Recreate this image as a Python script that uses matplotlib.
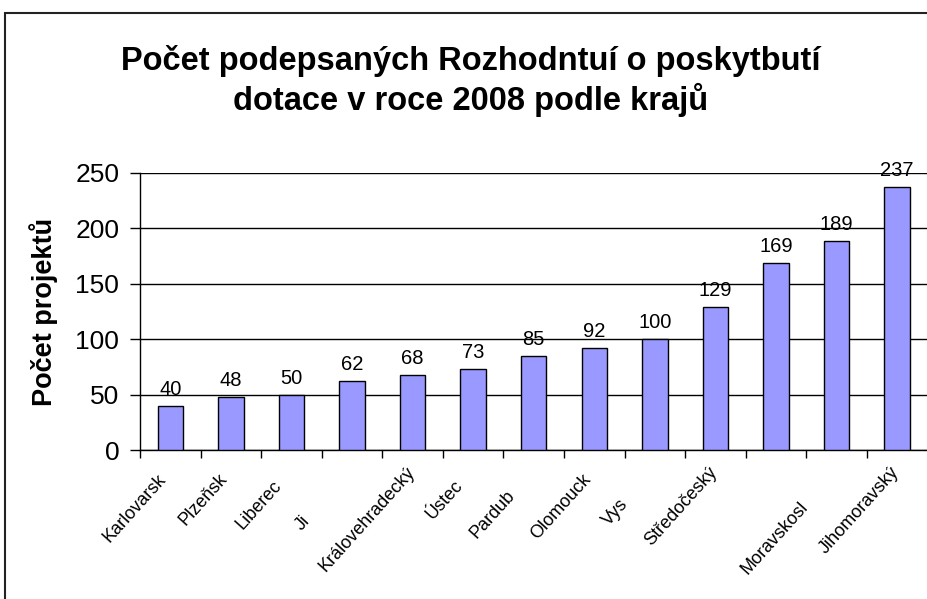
import matplotlib
matplotlib.use("Agg")
from matplotlib import pyplot as plt
from matplotlib import transforms as mtransforms
from matplotlib.font_manager import FontProperties
from matplotlib.patches import Rectangle
import numpy as np

plt.rcParams['font.family'] = ['Liberation Sans', 'DejaVu Sans']

# kraje (plne nazvy) a to, co je z popisku v grafu skutecne videt
kraje = ["Karlovarský", "Plzeňský", "Liberecký", "Jihočeský", "Královehradecký",
         "Ústecký", "Pardubický", "Olomoucký", "Vysočina", "Středočeský",
         "Zlínský", "Moravskoslezský", "Jihomoravský"]
popisky = ["Karlovarsk", "Plzeňsk", "Liberec", "Ji", "Královehradecký",
           "Ústec", "Pardub", "Olomouck", "Vys", "Středočeský",
           "", "Moravskosl", "Jihomoravský"]
projekty = [40, 48, 50, 62, 68, 73, 85, 92, 100, 129, 169, 189, 237]
yticks = [0, 50, 100, 150, 200, 250]

fig = plt.figure(figsize=(9.27, 5.99), dpi=100)
ax = fig.add_axes([140 / 927, 1 - 450 / 599, 787.5 / 927, 277 / 599])

x = np.arange(len(projekty))
ax.bar(x, projekty, width=0.42, color="#9999FF", edgecolor="black", linewidth=1, zorder=3)

for xi, v in zip(x, projekty):
    ax.annotate(str(v), (xi, v), xytext=(0, 5), textcoords="offset points",
                ha="center", va="bottom", fontsize=14.5)

ax.set_ylim(0, 250)
ax.set_xlim(-0.5, len(projekty) - 0.5)
ax.set_yticks(yticks)
ax.tick_params(axis="y", labelsize=19, length=7, width=1, pad=8)
ax.yaxis.grid(True, color="black", linewidth=1)
ax.set_axisbelow(True)

# carky na hranicich kategorii, popisky zvlast
ax.set_xticks(np.arange(len(projekty) + 1) - 0.5)
ax.set_xticklabels([])
ax.tick_params(axis="x", length=6, width=1)

for s in ["top", "right"]:
    ax.spines[s].set_visible(False)
ax.spines["left"].set_linewidth(1)
ax.spines["bottom"].set_linewidth(1)

ax.set_ylabel("Počet projektů", fontsize=19.5, fontweight="bold")
ax.yaxis.set_label_coords(-0.1045, 0.5)

# popisky pod osou x, orezane jako v puvodnim grafu
fp = FontProperties(family="Liberation Sans", size=13)
renderer = fig.canvas.get_renderer()
uhel = 48
cx, cy = np.cos(np.radians(uhel)), np.sin(np.radians(uhel))
for xi, full, shown in zip(x, kraje, popisky):
    if not shown:
        continue
    w_full = renderer.get_text_width_height_descent(full, fp, ismath=False)[0]
    w_shown = renderer.get_text_width_height_descent(shown, fp, ismath=False)[0]
    d = (w_full - w_shown) * 72 / fig.dpi
    tr = mtransforms.offset_copy(ax.get_xaxis_transform(), fig=fig,
                                 x=-5 - d * cx, y=-10 - d * cy, units="points")
    ax.text(xi, 0, shown, transform=tr, rotation=uhel, rotation_mode="anchor",
            ha="right", va="top", fontproperties=fp)

fig.text(0.508, 1 - 81 / 599, "Počet podepsaných Rozhodntuí o poskytbutí\ndotace v roce 2008 podle krajů",
         ha="center", va="center", fontsize=23.5, fontweight="bold", linespacing=1.2)

fig.patches.append(Rectangle((5 / 927, -0.1), 1.2, 1 - 13 / 599 + 0.1, transform=fig.transFigure,
                             fill=False, edgecolor="#222222", linewidth=1.5))

fig.savefig("out.png", dpi=100)
